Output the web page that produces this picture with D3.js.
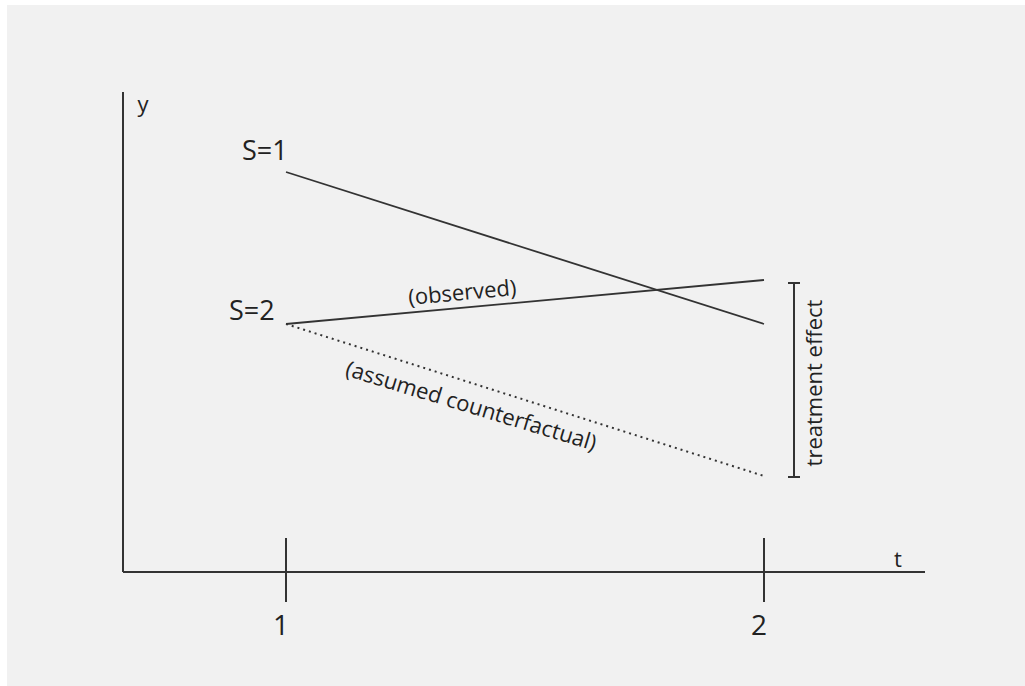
<!DOCTYPE html>
<html>
<head>
<meta charset="utf-8">
<script src="https://cdn.jsdelivr.net/npm/d3@7"></script>
<style>
  html, body { margin: 0; padding: 0; background: #ffffff; }
  svg { display: block; }
  text { font-family: "Open Sans", "Noto Sans", sans-serif; fill: #222; }
</style>
</head>
<body>
<svg id="chart" width="1025" height="686"></svg>
<script>
// ---- data ----
const times = [1, 2];
const tickLabels = ["1", "2"];
const s1 = [10, 6.2];              // S=1 observed
const s2 = [6.2, 7.3];             // S=2 observed
const counterfactual = [6.2, 2.4]; // S=2 assumed counterfactual
const seriesLabels = ["S=1", "S=2"];
const axisLabels = { x: "t", y: "y" };

// ---- layout ----
const svg = d3.select("#chart");
svg.append("rect").attr("x", 7).attr("y", 5).attr("width", 1018).attr("height", 681).attr("fill", "#f1f1f1");

const x = d3.scaleLinear().domain([1, 2]).range([286, 764]);
const y = d3.scaleLinear().domain([0, 12]).range([572, 92]);
const xMin = x.invert(123), xMax = x.invert(925);
const ink = "#333";

// axes
svg.append("line").attr("x1", x(xMin)).attr("x2", x(xMin)).attr("y1", y(0)).attr("y2", y(12))
  .attr("stroke", ink).attr("stroke-width", 2);
svg.append("line").attr("x1", x(xMin)).attr("x2", x(xMax)).attr("y1", y(0)).attr("y2", y(0))
  .attr("stroke", ink).attr("stroke-width", 2);

// ticks
const ticks = svg.append("g");
times.forEach((t, i) => {
  ticks.append("line").attr("x1", x(t)).attr("x2", x(t)).attr("y1", y(0) - 34).attr("y2", y(0) + 30)
    .attr("stroke", ink).attr("stroke-width", 2);
  ticks.append("text").attr("x", x(t) - 5).attr("y", 635).attr("text-anchor", "middle")
    .attr("font-size", 28).text(tickLabels[i]);
});

svg.append("text").attr("x", 898).attr("y", 567).attr("text-anchor", "middle").attr("font-size", 22).text(axisLabels.x);
svg.append("text").attr("x", 143).attr("y", 112).attr("text-anchor", "middle").attr("font-size", 22).text(axisLabels.y);

// lines
const line = d3.line().x((d, i) => x(times[i])).y(d => y(d));
svg.append("path").datum(s1).attr("d", line).attr("fill", "none").attr("stroke", ink).attr("stroke-width", 1.8);
svg.append("path").datum(s2).attr("d", line).attr("fill", "none").attr("stroke", ink).attr("stroke-width", 1.8);
svg.append("path").datum(counterfactual).attr("d", line).attr("fill", "none").attr("stroke", ink)
  .attr("stroke-width", 2).attr("stroke-dasharray", "2,4");

// series labels
svg.append("text").attr("x", 242).attr("y", y(s1[0]) - 12).attr("font-size", 27).text(seriesLabels[0]);
svg.append("text").attr("x", 229).attr("y", y(s2[0]) - 4).attr("font-size", 27).text(seriesLabels[1]);

// rotated labels along lines
function angleOf(vals) {
  return Math.atan2(y(vals[1]) - y(vals[0]), x(2) - x(1)) * 180 / Math.PI;
}
svg.append("text").attr("transform", `translate(463,300) rotate(${angleOf(s2)})`)
  .attr("text-anchor", "middle").attr("font-size", 22).text("(observed)");
svg.append("text").attr("transform", `translate(469,413) rotate(${angleOf(counterfactual) - 0.8})`)
  .attr("text-anchor", "middle").attr("font-size", 22).text("(assumed counterfactual)");

// treatment effect bracket
const bx = 794;
const br = svg.append("g").attr("stroke", ink).attr("stroke-width", 2);
br.append("line").attr("x1", bx).attr("x2", bx).attr("y1", y(s2[1]) + 3).attr("y2", y(counterfactual[1]) + 1);
br.append("line").attr("x1", bx - 6).attr("x2", bx + 6).attr("y1", y(s2[1]) + 3).attr("y2", y(s2[1]) + 3);
br.append("line").attr("x1", bx - 6).attr("x2", bx + 6).attr("y1", y(counterfactual[1]) + 1).attr("y2", y(counterfactual[1]) + 1);
svg.append("text").attr("transform", `translate(822,383) rotate(-90)`)
  .attr("text-anchor", "middle").attr("font-size", 22).text("treatment effect");
</script>
</body>
</html>
